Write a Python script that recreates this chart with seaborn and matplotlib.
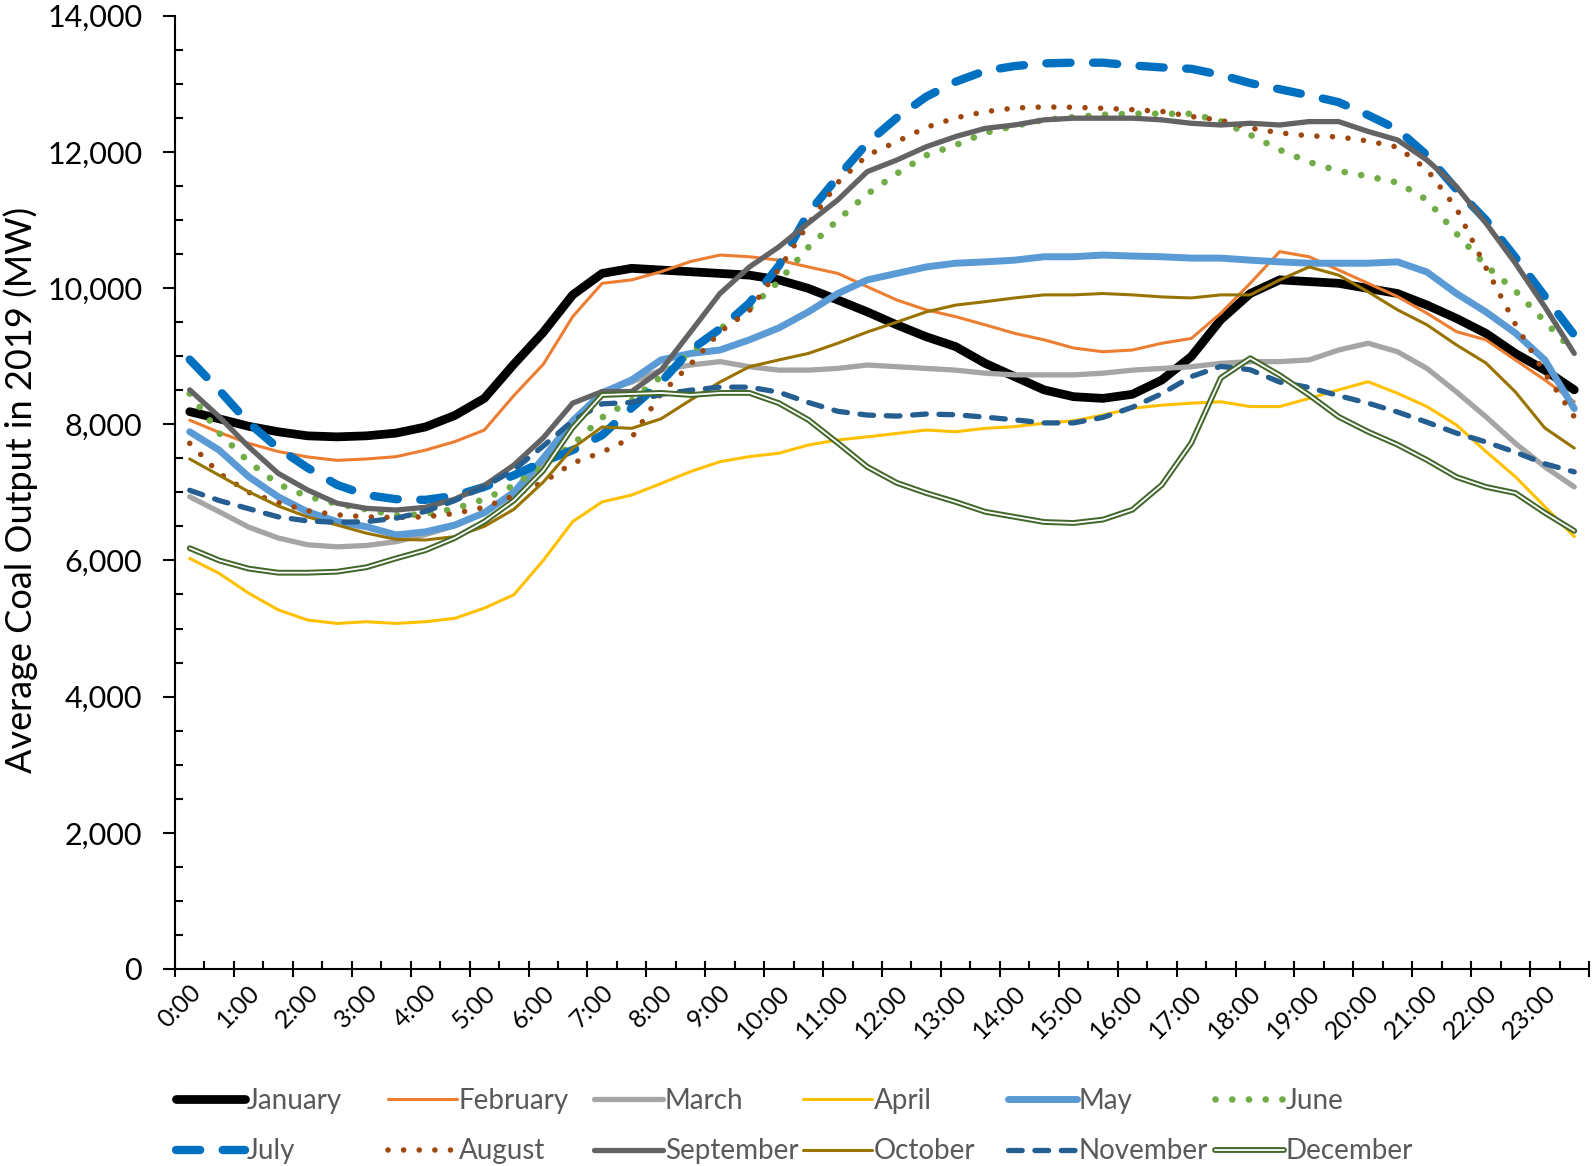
import numpy as np
import pandas as pd
import seaborn as sns
import matplotlib
matplotlib.use("Agg")
import matplotlib.pyplot as plt
from matplotlib import patheffects as pe
from matplotlib.transforms import ScaledTranslation
from matplotlib.ticker import FuncFormatter, MultipleLocator, FixedLocator

# ---------------- data (average coal output, MW, per half-hour slot) ----------------
months = ["January", "February", "March", "April", "May", "June",
          "July", "August", "September", "October", "November", "December"]
hour_labels = [f"{h}:00" for h in range(24)]
slot_index = np.arange(48)            # 48 half-hour slots, centred at hh:15 and hh:45

jan = [8185, 8080, 7970, 7890, 7830, 7815, 7830, 7870, 7960, 8130, 8380, 8880,
       9350, 9900, 10215, 10290, 10265, 10240, 10215, 10190, 10120, 9995, 9825, 9650,
       9460, 9285, 9140, 8895, 8700, 8505, 8405, 8380, 8440, 8650, 8995, 9535,
       9920, 10120, 10095, 10070, 9995, 9920, 9750, 9555, 9335, 9040, 8795, 8505]
feb = [8060, 7880, 7720, 7600, 7520, 7470, 7490, 7524, 7620, 7745, 7915, 8420,
       8880, 9580, 10070, 10120, 10240, 10390, 10485, 10460, 10410, 10310, 10215, 10020,
       9825, 9680, 9580, 9460, 9335, 9240, 9120, 9065, 9090, 9190, 9260, 9630,
       10070, 10535, 10460, 10265, 10070, 9875, 9630, 9360, 9240, 8945, 8650, 8330]
mar = [6935, 6715, 6490, 6330, 6230, 6200, 6220, 6275, 6380, 6510, 6700, 6980,
       7400, 8000, 8480, 8620, 8795, 8870, 8920, 8845, 8795, 8795, 8820, 8870,
       8845, 8820, 8795, 8750, 8725, 8725, 8725, 8750, 8795, 8820, 8845, 8895,
       8920, 8920, 8945, 9090, 9190, 9065, 8820, 8475, 8110, 7720, 7375, 7080]
apr = [6030, 5810, 5520, 5275, 5125, 5075, 5100, 5075, 5100, 5150, 5300, 5495,
       6000, 6570, 6860, 6960, 7130, 7305, 7450, 7525, 7575, 7695, 7770, 7815,
       7865, 7915, 7890, 7940, 7965, 8015, 8050, 8135, 8235, 8280, 8310, 8330,
       8260, 8260, 8380, 8505, 8625, 8455, 8260, 7990, 7600, 7230, 6790, 6350]
may = [7890, 7620, 7230, 6935, 6715, 6570, 6495, 6375, 6420, 6520, 6700, 7000,
       7500, 8050, 8460, 8650, 8945, 9040, 9090, 9240, 9415, 9650, 9920, 10120,
       10215, 10310, 10365, 10385, 10410, 10460, 10460, 10485, 10470, 10460, 10440, 10440,
       10410, 10385, 10365, 10365, 10365, 10385, 10235, 9920, 9650, 9340, 8945, 8230]
jun = [8450, 7870, 7450, 7120, 6940, 6830, 6750, 6660, 6680, 6760, 6900, 7100,
       7400, 7700, 8100, 8350, 8700, 9050, 9400, 9700, 10100, 10600, 11000, 11380,
       11680, 11950, 12100, 12280, 12380, 12470, 12510, 12545, 12560, 12560, 12560, 12450,
       12250, 12030, 11850, 11720, 11640, 11550, 11295, 10800, 10330, 9960, 9510, 9060]
jul = [8950, 8500, 8020, 7650, 7360, 7110, 6960, 6900, 6890, 6950, 7080, 7250,
       7450, 7620, 7840, 8240, 8620, 9090, 9400, 9780, 10330, 11100, 11630, 12130,
       12500, 12810, 13030, 13190, 13260, 13300, 13310, 13310, 13270, 13240, 13220, 13130,
       13010, 12920, 12830, 12730, 12540, 12330, 11950, 11450, 11000, 10450, 9880, 9310]
aug = [7720, 7280, 7000, 6850, 6730, 6670, 6640, 6630, 6640, 6690, 6780, 6950,
       7150, 7430, 7590, 7800, 8450, 8880, 9355, 9670, 10280, 10940, 11550, 11950,
       12150, 12360, 12500, 12590, 12645, 12660, 12655, 12640, 12620, 12595, 12520, 12465,
       12350, 12280, 12235, 12220, 12160, 12070, 11740, 11170, 10300, 9470, 8750, 8110]
sep = [8505, 8110, 7670, 7280, 7035, 6840, 6765, 6740, 6780, 6900, 7100, 7400,
       7800, 8310, 8480, 8480, 8795, 9355, 9920, 10310, 10605, 10955, 11295, 11710,
       11880, 12075, 12225, 12345, 12395, 12470, 12495, 12495, 12495, 12470, 12420, 12395,
       12420, 12395, 12445, 12445, 12300, 12175, 11880, 11490, 10955, 10365, 9725, 9040]
oct_ = [7490, 7250, 7010, 6800, 6640, 6520, 6400, 6310, 6300, 6350, 6500, 6750,
        7150, 7650, 7960, 7940, 8080, 8355, 8620, 8845, 8945, 9040, 9190, 9355,
        9500, 9650, 9750, 9800, 9855, 9900, 9900, 9920, 9900, 9870, 9855, 9900,
        9900, 10120, 10310, 10190, 9945, 9680, 9460, 9165, 8900, 8475, 7945, 7650]
nov = [7030, 6880, 6760, 6640, 6580, 6560, 6570, 6620, 6720, 6880, 7080, 7330,
       7680, 8050, 8300, 8320, 8440, 8500, 8545, 8545, 8470, 8320, 8190, 8135,
       8120, 8150, 8140, 8105, 8065, 8020, 8020, 8100, 8250, 8450, 8700, 8850,
       8800, 8620, 8540, 8420, 8310, 8180, 8030, 7870, 7740, 7590, 7420, 7300]
dec = [6180, 6000, 5880, 5820, 5820, 5835, 5900, 6030, 6150, 6330, 6570, 6880,
       7320, 7950, 8430, 8445, 8460, 8430, 8460, 8460, 8310, 8065, 7725, 7375,
       7140, 6990, 6860, 6715, 6640, 6565, 6550, 6600, 6745, 7110, 7725, 8680,
       8970, 8720, 8430, 8110, 7890, 7700, 7475, 7225, 7080, 6990, 6700, 6435]

series = [jan, feb, mar, apr, may, jun, jul, aug, sep, oct_, nov, dec]

# ---------------- styles ----------------
styles = {
    "January":   dict(color="#000000", lw=6.3, ls="-"),
    "February":  dict(color="#ED7D31", lw=2.2, ls="-"),
    "March":     dict(color="#A5A5A5", lw=3.8, ls="-"),
    "April":     dict(color="#FFC000", lw=2.2, ls="-"),
    "May":       dict(color="#5B9BD5", lw=5.0, ls="-"),
    "June":      dict(color="#70AD47", lw=4.8, ls=(0, (0.01, 2.5))),
    "July":      dict(color="#0070C0", lw=6.0, ls=(0, (2.9, 2.7))),
    "August":    dict(color="#9E480E", lw=4.0, ls=(0, (0.01, 2.8))),
    "September": dict(color="#636363", lw=3.8, ls="-"),
    "October":   dict(color="#997300", lw=2.2, ls="-"),
    "November":  dict(color="#255E91", lw=3.8, ls=(0, (2.6, 2.4))),
    "December":  dict(color="#FFFFFF", lw=1.3, ls="-"),
}

sns.set_style("ticks")
plt.rcParams["font.family"] = ["Lato", "DejaVu Sans"]

W, H, DPI = 1593, 1166, 100
fig = plt.figure(figsize=(W / DPI, H / DPI), dpi=DPI)
fig.patch.set_facecolor("white")
ax = fig.add_axes([175 / W, 1 - 969 / H, (1589 - 175) / W, (969 - 15.7) / H])
ax.set_facecolor("white")

slot_hours = slot_index * 0.5 + 0.25
df = pd.DataFrame({"slot": slot_hours})
for m, v in zip(months, series):
    df[m] = v
long = df.melt(id_vars="slot", var_name="month", value_name="mw")

lines = []
for m in months:
    st = styles[m]
    sub = long[long["month"] == m]
    sns.lineplot(data=sub, x="slot", y="mw", ax=ax, color=st["color"],
                 linewidth=st["lw"], legend=False, estimator=None, sort=False)
    ln = ax.lines[-1]
    ln.set_linestyle(st["ls"])
    ln.set_dash_capstyle("round")
    ln.set_solid_capstyle("round")
    ln.set_solid_joinstyle("round")
    ln.set_dash_joinstyle("round")
    if m == "December":
        ln.set_path_effects([pe.Stroke(linewidth=4.2, foreground="#43682B"), pe.Normal()])
    ln.set_label(m)
    lines.append(ln)

# ---------------- axes ----------------
ax.set_xlim(0, 24)
ax.set_ylim(0, 14000)
ax.set_xlabel("")
ax.set_ylabel("")
for s in ["top", "right"]:
    ax.spines[s].set_visible(False)
for s in ["left", "bottom"]:
    ax.spines[s].set_linewidth(1.5)
    ax.spines[s].set_color("black")
ax.grid(False)

ax.xaxis.set_major_locator(FixedLocator(list(range(25))))
ax.set_xticklabels(hour_labels + [""])
ax.xaxis.set_minor_locator(MultipleLocator(0.5))
ax.yaxis.set_major_locator(MultipleLocator(2000))
ax.yaxis.set_minor_locator(MultipleLocator(500))
ax.yaxis.set_major_formatter(FuncFormatter(lambda v, p: f"{int(v):,}"))

ax.tick_params(axis="y", which="major", direction="out", length=8.6, width=1.5,
               pad=15, labelsize=22, labelcolor="black", color="black")
ax.tick_params(axis="y", which="minor", direction="in", length=5.5, width=1.5, color="black")
ax.tick_params(axis="x", which="major", direction="inout", length=12, width=1.5,
               pad=2.5, labelsize=18, labelcolor="black", color="black")
ax.tick_params(axis="x", which="minor", direction="in", length=5.5, width=1.5, color="black")

offset = ScaledTranslation(30 / DPI, 0, fig.dpi_scale_trans)
for lab in ax.get_xticklabels():
    lab.set_rotation(45)
    lab.set_ha("right")
    lab.set_va("top")
    lab.set_transform(lab.get_transform() + offset)

fig.text(20.5 / W, 1 - 490 / H, "Average Coal Output in 2019 (MW)", rotation=90,
         ha="center", va="center", fontsize=26, color="black")

# ---------------- legend: 6 columns x 2 rows ----------------
col_x = [176, 388, 594, 803, 1008, 1215]
for k in range(6):
    leg = fig.legend(handles=[lines[k], lines[k + 6]],
                     labels=[months[k], months[k + 6]],
                     loc="upper left", bbox_to_anchor=(col_x[k] / W, 1 - 1088 / H),
                     frameon=False, borderpad=0, borderaxespad=0,
                     handlelength=2.5, handletextpad=0.05, labelspacing=0.88,
                     fontsize=20, labelcolor="#595959")

fig.savefig("out.png", dpi=DPI, facecolor="white")
